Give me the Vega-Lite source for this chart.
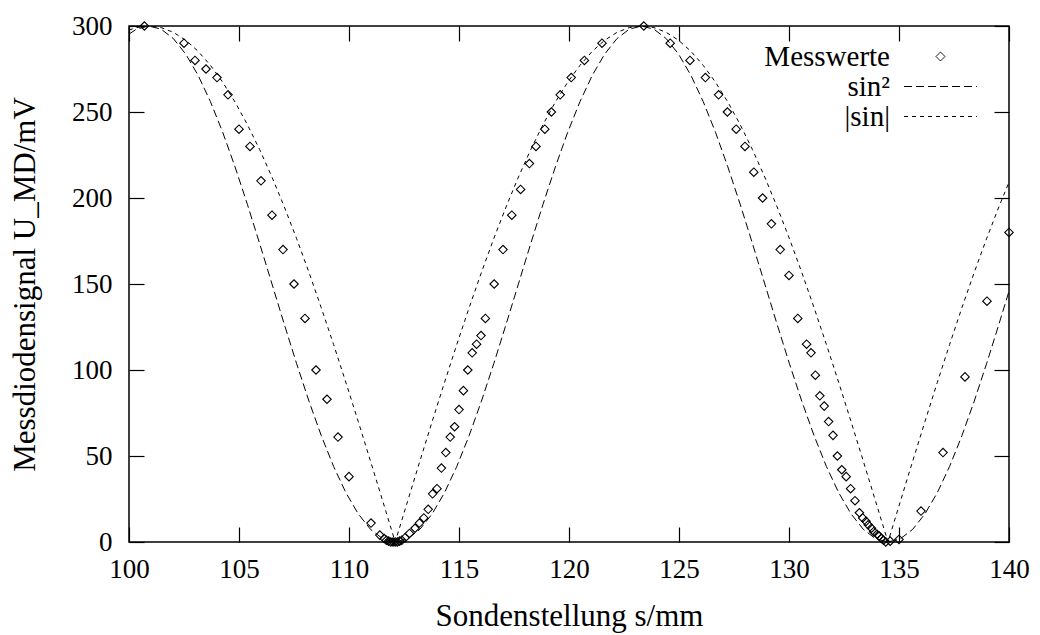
{
  "$schema": "https://vega.github.io/schema/vega-lite/v6.json",
  "width": 880,
  "height": 516,
  "autosize": {"type": "none"},
  "padding": {"left": 129, "top": 26, "right": 31, "bottom": 93},
  "background": "white",
  "config": {
    "font": "Liberation Serif",
    "view": {"stroke": "black", "strokeWidth": 1.5},
    "axis": {
      "grid": false, "domain": false, "ticks": true, "tickColor": "black", "tickSize": -15, "tickWidth": 1.2,
      "labelFont": "Liberation Serif", "labelFontSize": 27, "labelColor": "black", "labelFlush": false, "labelOverlap": false,
      "titleFont": "Liberation Serif", "titleFontSize": 31, "titleFontWeight": "normal", "titleColor": "black"
    },
    "legend": {
      "orient": "top-right", "offset": 16, "padding": 0,
      "labelFont": "Liberation Serif", "labelFontSize": 29, "labelColor": "black",
      "labelAlign": "right", "labelOffset": -65, "symbolSize": 81,
      "symbolStrokeColor": "black", "symbolStrokeWidth": 1, "symbolFillColor": "transparent", "rowPadding": 0
    }
  },
  "datasets": {
    "mess": [
      {"s":100.7,"U":300},{"s":102.5,"U":290},{"s":103.0,"U":280},{"s":103.5,"U":275},{"s":104.0,"U":270},{"s":104.5,"U":260},{"s":105.0,"U":240},{"s":105.5,"U":230},{"s":106.0,"U":210},{"s":106.5,"U":190},{"s":107.0,"U":170},{"s":107.5,"U":150},{"s":108.0,"U":130},{"s":108.5,"U":100},{"s":109.0,"U":83},{"s":109.5,"U":61},{"s":110.0,"U":38},{"s":111.0,"U":11},{"s":111.4,"U":4},{"s":111.6,"U":2},{"s":111.7,"U":1},{"s":111.8,"U":0.5},{"s":111.9,"U":0},{"s":112.0,"U":0},{"s":112.1,"U":0},{"s":112.2,"U":0},{"s":112.3,"U":0.5},{"s":112.4,"U":1},{"s":112.55,"U":2.5},{"s":112.75,"U":5},{"s":113.0,"U":8},{"s":113.2,"U":11},{"s":113.4,"U":14},{"s":113.6,"U":19},{"s":113.8,"U":28},{"s":114.0,"U":31},{"s":114.2,"U":43},{"s":114.4,"U":52},{"s":114.6,"U":61},{"s":114.8,"U":67},{"s":115.0,"U":77},{"s":115.2,"U":88},{"s":115.4,"U":100},{"s":115.6,"U":110},{"s":115.8,"U":115},{"s":116.0,"U":120},{"s":116.2,"U":130},{"s":116.6,"U":150},{"s":117.0,"U":170},{"s":117.4,"U":190},{"s":117.8,"U":205},{"s":118.2,"U":220},{"s":118.5,"U":230},{"s":118.9,"U":240},{"s":119.2,"U":250},{"s":119.6,"U":260},{"s":120.1,"U":270},{"s":120.7,"U":280},{"s":121.5,"U":290},{"s":123.4,"U":300},{"s":124.6,"U":290},{"s":125.5,"U":280},{"s":126.2,"U":270},{"s":126.8,"U":260},{"s":127.2,"U":250},{"s":127.6,"U":240},{"s":128.0,"U":230},{"s":128.4,"U":215},{"s":128.8,"U":200},{"s":129.2,"U":185},{"s":129.6,"U":170},{"s":130.0,"U":155},{"s":130.4,"U":130},{"s":130.8,"U":115},{"s":131.0,"U":110},{"s":131.2,"U":97},{"s":131.4,"U":85},{"s":131.6,"U":79},{"s":131.8,"U":70},{"s":132.0,"U":62},{"s":132.2,"U":50},{"s":132.4,"U":42},{"s":132.6,"U":38},{"s":132.8,"U":31},{"s":133.0,"U":24},{"s":133.2,"U":17},{"s":133.35,"U":14},{"s":133.5,"U":12},{"s":133.6,"U":10},{"s":133.75,"U":8},{"s":133.85,"U":6},{"s":134.0,"U":4.5},{"s":134.1,"U":3.5},{"s":134.2,"U":2},{"s":134.3,"U":1},{"s":134.4,"U":0},{"s":134.6,"U":0.5},{"s":135.0,"U":1.5},{"s":136.0,"U":18},{"s":137.0,"U":52},{"s":138.0,"U":96},{"s":139.0,"U":140},{"s":140.0,"U":180}
    ],
    "kurven": [
      {"s":100.00,"sin²":295.3,"|sin|":297.6},
      {"s":100.34,"sin²":298.15,"|sin|":299.08},
      {"s":100.90,"sin²":300,"|sin|":300},
      {"s":101.46,"sin²":298.15,"|sin|":299.08},
      {"s":102.02,"sin²":292.66,"|sin|":296.31},
      {"s":102.58,"sin²":283.65,"|sin|":291.71},
      {"s":103.14,"sin²":271.35,"|sin|":285.32},
      {"s":103.70,"sin²":256.07,"|sin|":277.16},
      {"s":104.26,"sin²":238.17,"|sin|":267.30},
      {"s":104.82,"sin²":218.10,"|sin|":255.79},
      {"s":105.38,"sin²":196.35,"|sin|":242.71},
      {"s":105.94,"sin²":173.47,"|sin|":228.12},
      {"s":106.50,"sin²":150,"|sin|":212.13},
      {"s":107.06,"sin²":126.53,"|sin|":194.84},
      {"s":107.62,"sin²":103.65,"|sin|":176.34},
      {"s":108.18,"sin²":81.90,"|sin|":156.75},
      {"s":108.74,"sin²":61.83,"|sin|":136.20},
      {"s":109.30,"sin²":43.93,"|sin|":114.80},
      {"s":109.86,"sin²":28.65,"|sin|":92.71},
      {"s":110.42,"sin²":16.35,"|sin|":70.04},
      {"s":110.98,"sin²":7.34,"|sin|":46.93},
      {"s":111.54,"sin²":1.85,"|sin|":23.54},
      {"s":112.10,"sin²":0,"|sin|":0},
      {"s":112.66,"sin²":1.85,"|sin|":23.54},
      {"s":113.22,"sin²":7.34,"|sin|":46.93},
      {"s":113.78,"sin²":16.35,"|sin|":70.04},
      {"s":114.34,"sin²":28.65,"|sin|":92.71},
      {"s":114.90,"sin²":43.93,"|sin|":114.80},
      {"s":115.46,"sin²":61.83,"|sin|":136.20},
      {"s":116.02,"sin²":81.90,"|sin|":156.75},
      {"s":116.58,"sin²":103.65,"|sin|":176.34},
      {"s":117.14,"sin²":126.53,"|sin|":194.84},
      {"s":117.70,"sin²":150,"|sin|":212.13},
      {"s":118.26,"sin²":173.47,"|sin|":228.12},
      {"s":118.82,"sin²":196.35,"|sin|":242.71},
      {"s":119.38,"sin²":218.10,"|sin|":255.79},
      {"s":119.94,"sin²":238.17,"|sin|":267.30},
      {"s":120.50,"sin²":256.07,"|sin|":277.16},
      {"s":121.06,"sin²":271.35,"|sin|":285.32},
      {"s":121.62,"sin²":283.65,"|sin|":291.71},
      {"s":122.18,"sin²":292.66,"|sin|":296.31},
      {"s":122.74,"sin²":298.15,"|sin|":299.08},
      {"s":123.30,"sin²":300,"|sin|":300},
      {"s":123.86,"sin²":298.15,"|sin|":299.08},
      {"s":124.42,"sin²":292.66,"|sin|":296.31},
      {"s":124.98,"sin²":283.65,"|sin|":291.71},
      {"s":125.54,"sin²":271.35,"|sin|":285.32},
      {"s":126.10,"sin²":256.07,"|sin|":277.16},
      {"s":126.66,"sin²":238.17,"|sin|":267.30},
      {"s":127.22,"sin²":218.10,"|sin|":255.79},
      {"s":127.78,"sin²":196.35,"|sin|":242.71},
      {"s":128.34,"sin²":173.47,"|sin|":228.12},
      {"s":128.90,"sin²":150,"|sin|":212.13},
      {"s":129.46,"sin²":126.53,"|sin|":194.84},
      {"s":130.02,"sin²":103.65,"|sin|":176.34},
      {"s":130.58,"sin²":81.90,"|sin|":156.75},
      {"s":131.14,"sin²":61.83,"|sin|":136.20},
      {"s":131.70,"sin²":43.93,"|sin|":114.80},
      {"s":132.26,"sin²":28.65,"|sin|":92.71},
      {"s":132.82,"sin²":16.35,"|sin|":70.04},
      {"s":133.38,"sin²":7.34,"|sin|":46.93},
      {"s":133.94,"sin²":1.85,"|sin|":23.54},
      {"s":134.50,"sin²":0,"|sin|":0},
      {"s":135.06,"sin²":1.85,"|sin|":23.54},
      {"s":135.62,"sin²":7.34,"|sin|":46.93},
      {"s":136.18,"sin²":16.35,"|sin|":70.04},
      {"s":136.74,"sin²":28.65,"|sin|":92.71},
      {"s":137.30,"sin²":43.93,"|sin|":114.80},
      {"s":137.86,"sin²":61.83,"|sin|":136.20},
      {"s":138.42,"sin²":81.90,"|sin|":156.75},
      {"s":138.98,"sin²":103.65,"|sin|":176.34},
      {"s":139.54,"sin²":126.53,"|sin|":194.84},
      {"s":140.00,"sin²":145.8,"|sin|":209.2}
    ]
  },
  "layer": [
    {
      "data": {"name": "kurven"},
      "transform": [{"fold": ["sin²", "|sin|"], "as": ["Kurve", "U"]}],
      "mark": {"type": "line", "color": "black", "strokeWidth": 1, "clip": true},
      "encoding": {
        "x": {"field": "s", "type": "quantitative",
              "scale": {"domain": [100, 140], "nice": false, "zero": false},
              "axis": {"orient": "bottom", "values": [100,105,110,115,120,125,130,135,140], "title": "Sondenstellung s/mm", "labelPadding": 29, "titlePadding": 19}},
        "y": {"field": "U", "type": "quantitative",
              "scale": {"domain": [0, 300], "nice": false, "zero": false},
              "axis": {"orient": "left", "values": [0,50,100,150,200,250,300], "title": "Messdiodensignal U_MD/mV", "labelPadding": 32, "titlePadding": 30}},
        "strokeDash": {"field": "Kurve", "type": "nominal",
              "scale": {"domain": ["Messwerte", "sin²", "|sin|"], "range": [[1,0],[8,4],[4,4]]},
              "legend": {"title": null}}
      }
    },
    {
      "data": {"name": "mess"},
      "mark": {"type": "point", "filled": false, "color": "black", "strokeWidth": 1.1, "size": 72, "opacity": 1},
      "encoding": {
        "x": {"field": "s", "type": "quantitative",
              "axis": {"orient": "top", "labels": false, "title": null, "values": [100,105,110,115,120,125,130,135,140]}},
        "y": {"field": "U", "type": "quantitative",
              "axis": {"orient": "right", "labels": false, "title": null, "values": [0,50,100,150,200,250,300]}},
        "shape": {"datum": "Messwerte", "type": "nominal",
              "scale": {"domain": ["Messwerte", "sin²", "|sin|"], "range": ["diamond", "M-8.1,0H8.1M11.1,0", "M-8.1,0H8.1M11.1,0"]},
              "legend": {"title": null}}
      }
    }
  ]
}
